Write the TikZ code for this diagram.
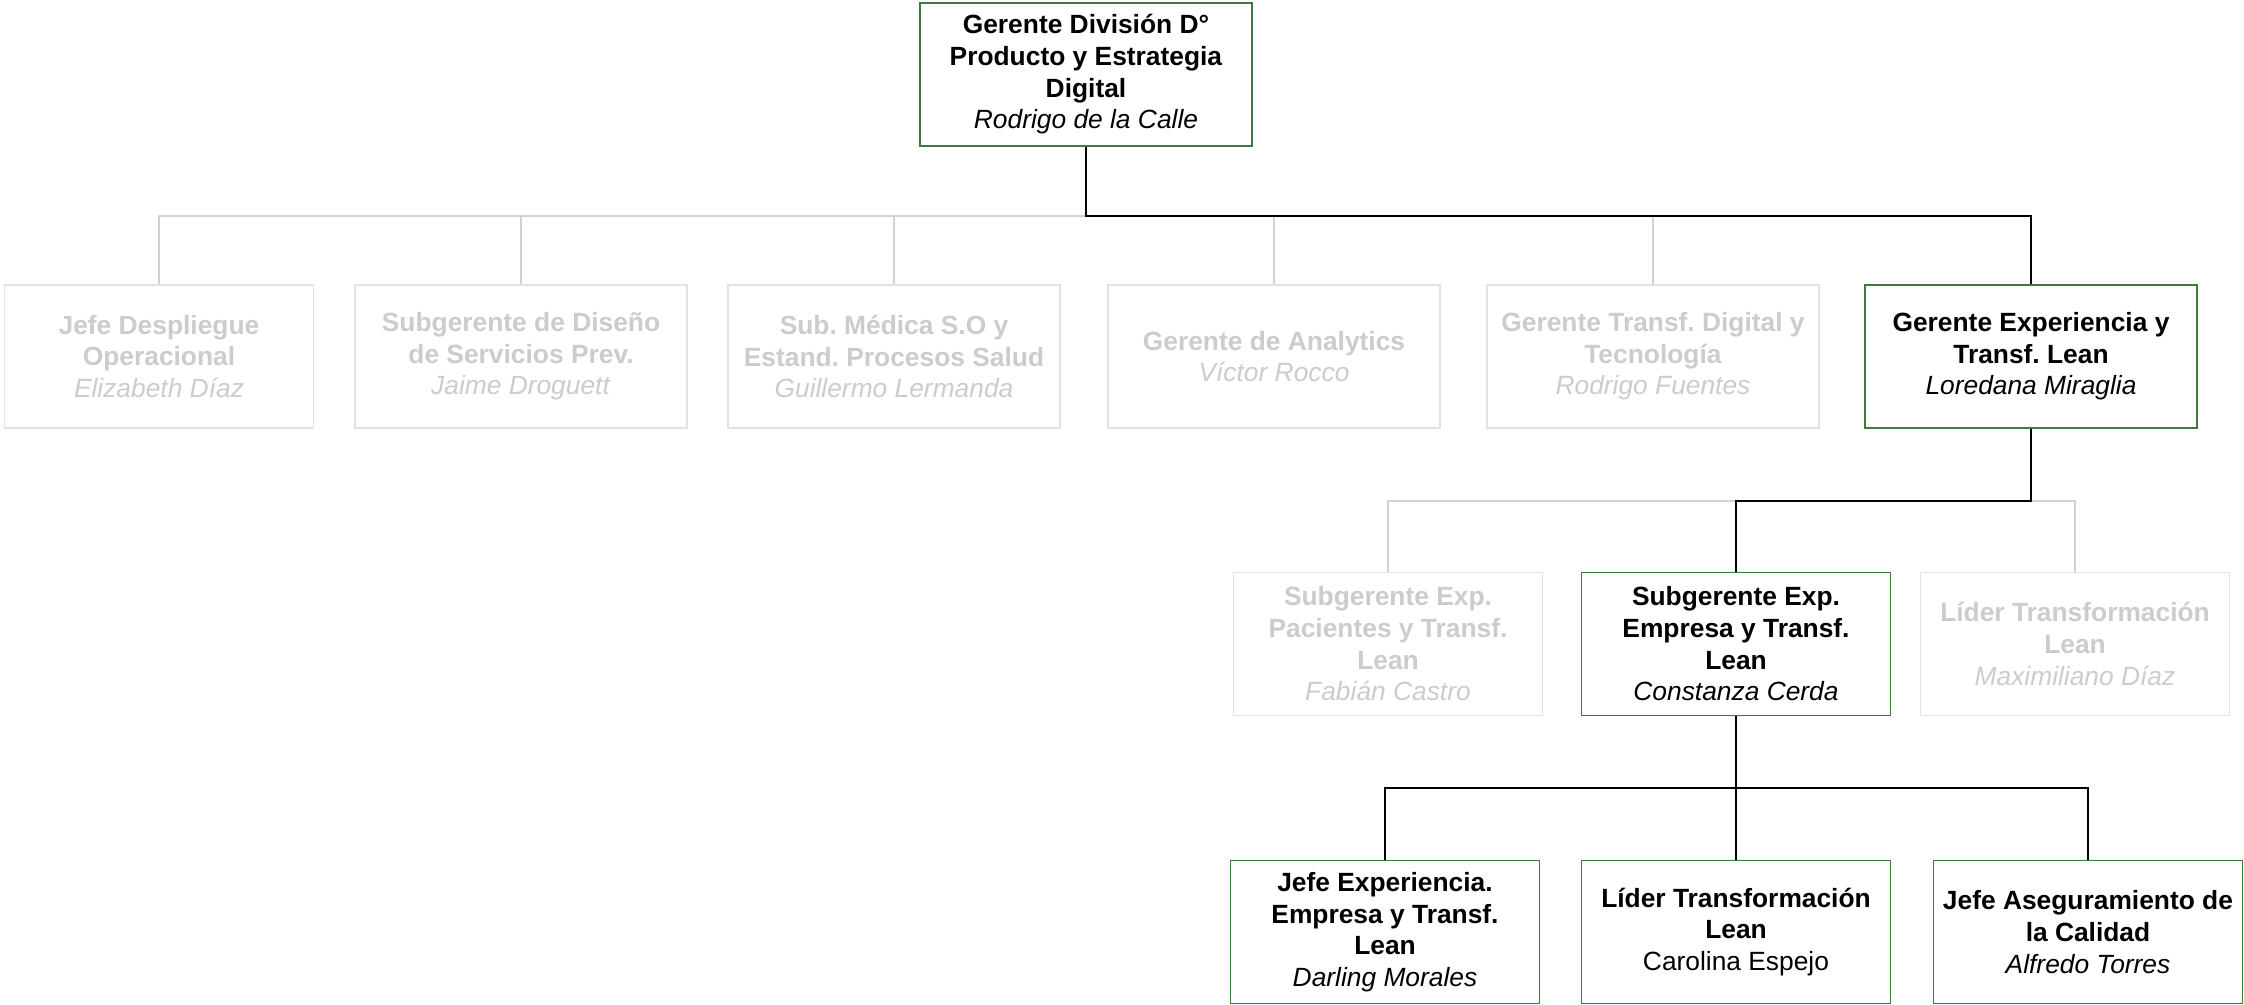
\documentclass[tikz,border=0pt]{standalone}
\usepackage{fontspec}
\setmainfont{Liberation Sans}
\frenchspacing
\definecolor{actborde}{HTML}{3F7A3F}
\definecolor{inborde}{HTML}{DCE6DC}
\definecolor{intxt}{HTML}{CCCCCC}
\definecolor{inlinea}{HTML}{D2D2D2}
\usetikzlibrary{positioning,calc}

\begin{document}
\begin{tikzpicture}[
    obox/.style={
      draw=actborde,line width=0.8pt,fill=white,
      minimum width=6.64cm,minimum height=2.86cm,
      align=center,inner sep=0pt,font=\fontsize{15}{18}\selectfont},
    gbox/.style={obox,draw=inborde,text=intxt},
    nar/.style={minimum width=6.18cm},
    lnk/.style={draw=black,line width=1.1pt},
    glnk/.style={draw=inlinea,line width=1.1pt},
  ]
    \useasboundingbox (0,0) rectangle (44.88,-20.1);

    \node[obox] (gdiv) at (21.72,-1.49)
      {\textbf{Gerente División D°}\\\textbf{Producto y Estrategia}\\\textbf{Digital}\\\textit{Rodrigo de la Calle}};

    \node[gbox,nar] (jdes) at (3.18,-7.13)
      {\textbf{Jefe Despliegue}\\\textbf{Operacional}\\\textit{Elizabeth Díaz}};
    \node[gbox] (sdis) at (10.42,-7.13)
      {\textbf{Subgerente de Diseño}\\\textbf{de Servicios Prev.}\\\textit{Jaime Droguett}};
    \node[gbox] (smed) at (17.88,-7.13)
      {\textbf{Sub. Médica S.O y}\\\textbf{Estand. Procesos Salud}\\\textit{Guillermo Lermanda}};
    \node[gbox] (gana) at (25.48,-7.13)
      {\textbf{Gerente de Analytics}\\\textit{Víctor Rocco}};
    \node[gbox] (gtdt) at (33.06,-7.13)
      {\textbf{Gerente Transf. Digital y}\\\textbf{Tecnología}\\\textit{Rodrigo Fuentes}};
    \node[obox] (gexp) at (40.62,-7.13)
      {\textbf{Gerente Experiencia y}\\\textbf{Transf. Lean}\\\textit{Loredana Miraglia}};

    \node[gbox,nar] (spac) at (27.76,-12.88)
      {\textbf{Subgerente Exp.}\\\textbf{Pacientes y Transf.}\\\textbf{Lean}\\\textit{Fabián Castro}};
    \node[obox,nar] (semp) at (34.72,-12.88)
      {\textbf{Subgerente Exp.}\\\textbf{Empresa y Transf.}\\\textbf{Lean}\\\textit{Constanza Cerda}};
    \node[gbox,nar] (ltra) at (41.5,-12.88)
      {\textbf{Líder Transformación}\\\textbf{Lean}\\\textit{Maximiliano Díaz}};

    \node[obox,nar] (jexp) at (27.7,-18.64)
      {\textbf{Jefe Experiencia.}\\\textbf{Empresa y Transf.}\\\textbf{Lean}\\\textit{Darling Morales}};
    \node[obox,nar] (llea) at (34.72,-18.64)
      {\textbf{Líder Transformación}\\\textbf{Lean}\\Carolina Espejo};
    \node[obox,nar] (jcal) at (41.76,-18.64)
      {\textbf{Jefe Aseguramiento de}\\\textbf{la Calidad}\\\textit{Alfredo Torres}};

    \coordinate (r1) at (21.72,-4.32);
    \coordinate (r2) at (40.62,-10.02);
    \coordinate (r3) at (34.72,-15.76);

    \draw[glnk] (r1) -| (jdes);
    \draw[glnk] (r1) -| (sdis);
    \draw[glnk] (r1) -| (smed);
    \draw[glnk] (r1) -| (gana);
    \draw[glnk] (r1) -| (gtdt);
    \draw[lnk] (gdiv) -- (r1) -| (gexp);

    \draw[glnk] (r2) -| (spac);
    \draw[glnk] (r2) -| (ltra);
    \draw[lnk] (gexp) -- (r2) -| (semp);

    \draw[lnk] (semp) -- (r3) -| (jexp);
    \draw[lnk] (r3) -- (llea);
    \draw[lnk] (r3) -| (jcal);
\end{tikzpicture}
\end{document}
